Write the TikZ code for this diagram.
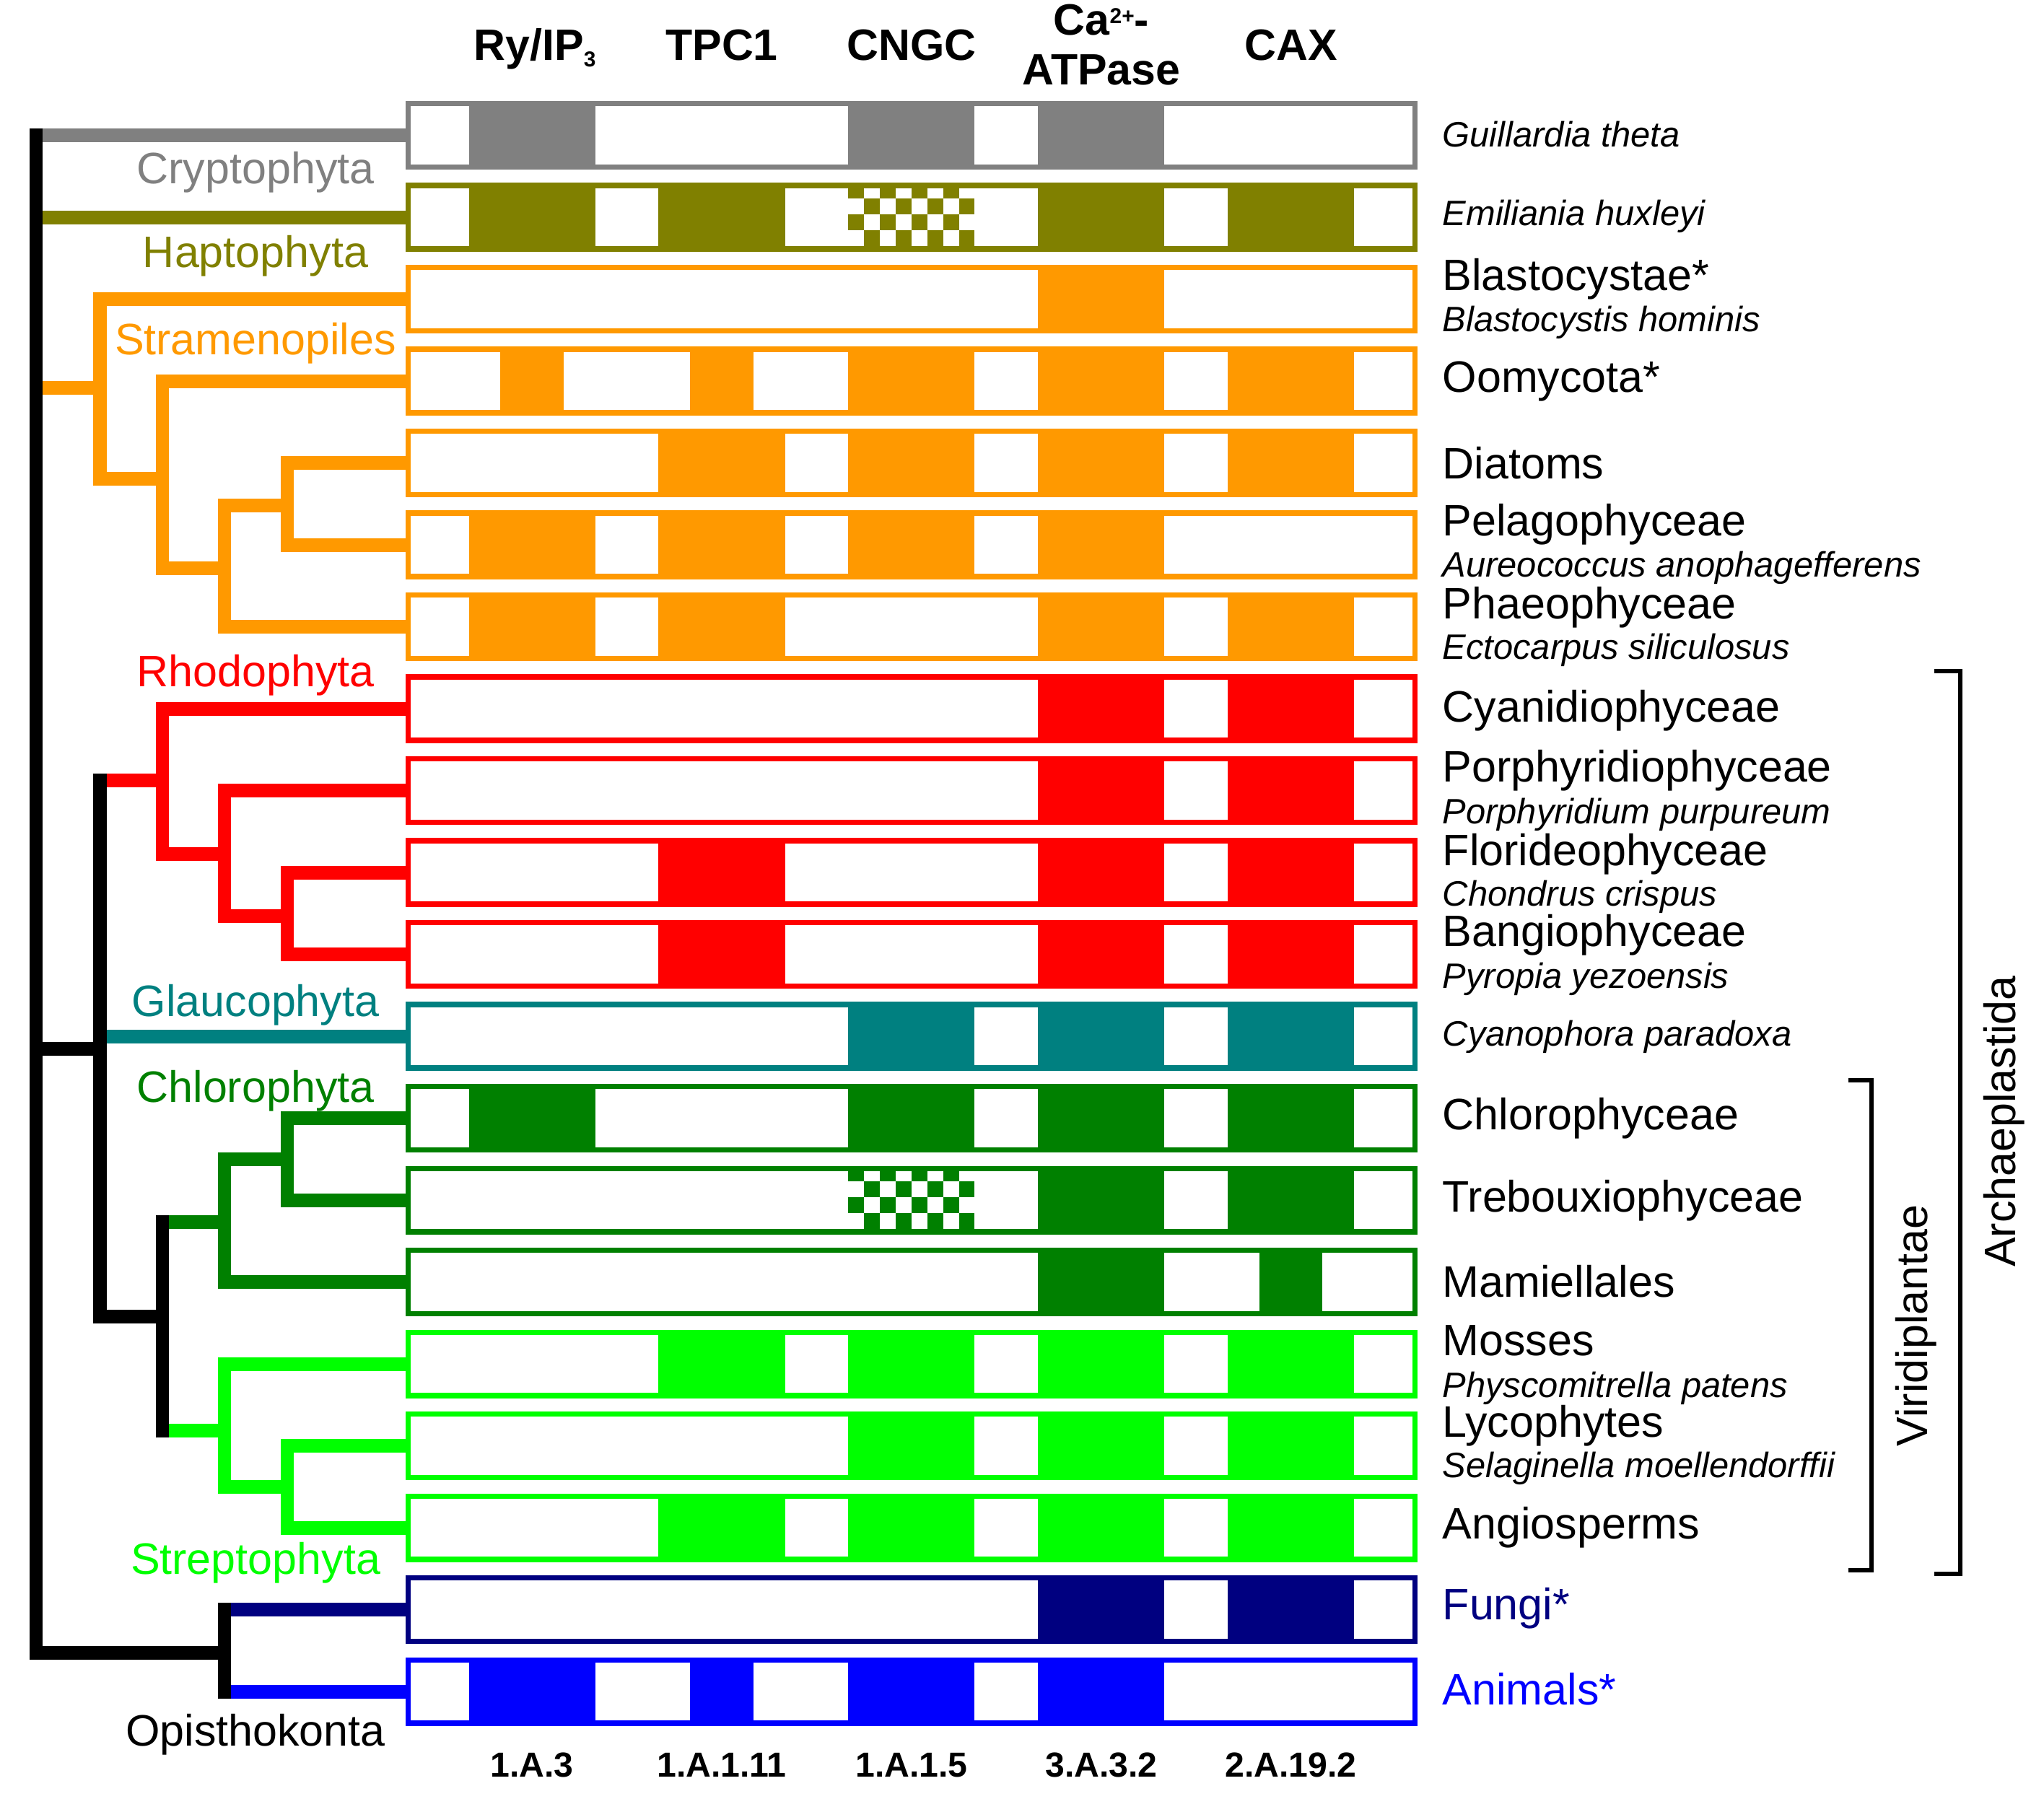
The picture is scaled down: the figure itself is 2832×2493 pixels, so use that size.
\documentclass[tikz,border=0pt]{standalone}
\usepackage{fontspec}
\setmainfont{Liberation Sans}

\definecolor{crypc}{RGB}{128,128,128}
\definecolor{haptc}{RGB}{128,128,0}
\definecolor{strac}{RGB}{255,153,0}
\definecolor{rhodc}{RGB}{255,0,0}
\definecolor{glauc}{RGB}{0,128,128}
\definecolor{chloc}{RGB}{0,128,0}
\definecolor{strepc}{RGB}{0,255,0}
\definecolor{fungc}{RGB}{0,0,128}
\definecolor{animc}{RGB}{0,0,255}

\tikzset{
	tree/.style={line width=5.4pt},
	genebox/.style={rectangle, line width=2.13pt, minimum width=13.945cm, minimum height=0.875cm, inner sep=0pt, outer sep=0pt},
	bracket/.style={line width=1.56pt},
	clade/.style={anchor=base, inner sep=0pt, font=\fontsize{17.35}{20}\selectfont},
	taxon/.style={anchor=base west, inner sep=0pt, font=\fontsize{17.35}{20}\selectfont},
	species/.style={anchor=base west, inner sep=0pt, font=\fontsize{13.9}{16}\selectfont\itshape},
	gene/.style={anchor=base, inner sep=0pt, font=\fontsize{17.3}{20}\selectfont\bfseries},
	tcnum/.style={anchor=base, inner sep=0pt, font=\fontsize{13.7}{16}\selectfont\bfseries}
}

\newcommand{\genebar}[4]{% name, y centre, colour, filled spans (in units of 43.8)
	\foreach \sa/\sb in {#4}
	{
		\fill[#3] (562 + 43.8*\sa, #2 - 47.5) rectangle (562 + 43.8*\sb, #2 + 47.5);
	}
	\node[genebox, draw=#3] (#1) at (1263, #2) {};
}

\newcommand{\checkerfill}[2]{% y centre, colour -- CNGC column only
	\begin{scope}
		\clip (1175.2, #1 - 40) rectangle (1350.4, #1 + 40);
		\foreach \i in {0, ..., 7}
		{
			\foreach \j in {0, ..., 3}
			{
				\pgfmathtruncatemacro{\cellodd}{mod(\i + \j, 2)}
				\ifnum\cellodd=1
					\fill[#2] (1175.2 + 21.9*\i, #1 + 40 - 22*\j) rectangle ++(21.9, -22);
				\fi
			}
		}
	\end{scope}
}

\begin{document}
\begin{tikzpicture}[x=0.01cm, y=-0.01cm]
\useasboundingbox (0, 0) rectangle (2832, 2493);

% gene columns
\node[gene] (hry) at (741, 83) {Ry/IP\raisebox{-2.6pt}{\fontsize{8.5}{9}\selectfont 3}};
\node[gene] (htpc) at (1000, 83) {TPC1};
\node[gene] (hcngc) at (1263, 83) {CNGC};
\node[gene] (hcaa) at (1526, 48) {Ca\raisebox{4.3pt}{\fontsize{8.5}{9}\selectfont 2+}-};
\node[gene] (hcab) at (1526, 117) {ATPase};
\node[gene] (hcax) at (1788.6, 83) {CAX};

\node[tcnum] (nry) at (737.2, 2462) {1.A.3};
\node[tcnum] (ntpc) at (1000, 2462) {1.A.1.11};
\node[tcnum] (ncngc) at (1263, 2462) {1.A.1.5};
\node[tcnum] (nca) at (1526, 2462) {3.A.3.2};
\node[tcnum] (ncax) at (1788.6, 2462) {2.A.19.2};

% bars
\genebar{guil}{187.5}{crypc}{2/6, 14/18, 20/24}
\genebar{emil}{301}{haptc}{2/6, 8/12, 20/24, 26/30}
\checkerfill{301}{haptc}
\genebar{blasto}{414.5}{strac}{20/24}
\genebar{oomy}{528}{strac}{3/5, 9/11, 14/18, 20/24, 26/30}
\genebar{diat}{641.5}{strac}{8/12, 14/18, 20/24, 26/30}
\genebar{pela}{755}{strac}{2/6, 8/12, 14/18, 20/24}
\genebar{phaeo}{868.5}{strac}{2/6, 8/12, 20/24, 26/30}
\genebar{cyani}{982}{rhodc}{20/24, 26/30}
\genebar{porph}{1095.5}{rhodc}{20/24, 26/30}
\genebar{flori}{1209}{rhodc}{8/12, 20/24, 26/30}
\genebar{bangi}{1322.5}{rhodc}{8/12, 20/24, 26/30}
\genebar{cyano}{1436}{glauc}{14/18, 20/24, 26/30}
\genebar{chloro}{1549.5}{chloc}{2/6, 14/18, 20/24, 26/30}
\genebar{trebo}{1663}{chloc}{20/24, 26/30}
\checkerfill{1663}{chloc}
\genebar{mamie}{1776.5}{chloc}{20/24, 27/29}
\genebar{moss}{1890}{strepc}{8/12, 14/18, 20/24, 26/30}
\genebar{lyco}{2003.5}{strepc}{14/18, 20/24, 26/30}
\genebar{angio}{2117}{strepc}{8/12, 14/18, 20/24, 26/30}
\genebar{fungi}{2230.5}{fungc}{20/24, 26/30}
\genebar{anim}{2344}{animc}{2/6, 9/11, 14/18, 20/24}

% tree
\coordinate (euka) at (50, 187.5);
\coordinate (eukb) at (50, 301);
\coordinate (eukc) at (50, 537);
\coordinate (eukd) at (50, 1453);
\coordinate (euke) at (50, 2290);
\coordinate (stra1) at (138.5, 537);
\coordinate (stra2) at (225, 663);
\coordinate (stra3) at (311, 787);
\coordinate (stra4) at (398, 700);
\coordinate (arch1) at (138.5, 1081);
\coordinate (arch2) at (138.5, 1436);
\coordinate (arch3) at (138.5, 1453);
\coordinate (arch4) at (138.5, 1824);
\coordinate (rhod1) at (225, 1081);
\coordinate (rhod2) at (311, 1183);
\coordinate (rhod3) at (398, 1269);
\coordinate (viri1) at (225, 1693);
\coordinate (viri2) at (225, 1824);
\coordinate (viri3) at (225, 1982);
\coordinate (chlo1) at (311, 1693);
\coordinate (chlo2) at (398, 1606);
\coordinate (stre1) at (311, 1982);
\coordinate (stre2) at (398, 2060);
\coordinate (opis1) at (311, 2230.5);
\coordinate (opis2) at (311, 2290);
\coordinate (opis3) at (311, 2344);

\draw[tree, crypc] (euka) -- (guil.west);
\draw[tree, haptc] (eukb) -- (emil.west);

\draw[tree, strac] (eukc) -- (stra1);
\draw[tree, strac] (blasto.west) -| (stra1) |- (stra2);
\draw[tree, strac] (oomy.west) -| (stra2) |- (stra3);
\draw[tree, strac] (stra4) -| (stra3) |- (phaeo.west);
\draw[tree, strac] (diat.west) -| (stra4) |- (pela.west);

\draw[tree, rhodc] (arch1) -- (rhod1);
\draw[tree, rhodc] (cyani.west) -| (rhod1) |- (rhod2);
\draw[tree, rhodc] (porph.west) -| (rhod2) |- (rhod3);
\draw[tree, rhodc] (flori.west) -| (rhod3) |- (bangi.west);

\draw[tree, glauc] (arch2) -- (cyano.west);

\draw[tree, chloc] (viri1) -- (chlo1);
\draw[tree, chloc] (chlo2) -| (chlo1) |- (mamie.west);
\draw[tree, chloc] (chloro.west) -| (chlo2) |- (trebo.west);

\draw[tree, strepc] (viri3) -- (stre1);
\draw[tree, strepc] (moss.west) -| (stre1) |- (stre2);
\draw[tree, strepc] (lyco.west) -| (stre2) |- (angio.west);

\draw[tree, fungc] (opis1) -- (fungi.west);
\draw[tree, animc] (opis3) -- (anim.west);

\draw[tree, line cap=rect] (euka) -- (euke) -- (opis2);
\draw[tree] (eukd) -- (arch3);
\draw[tree, line cap=rect] (arch1) -- (arch4) -- (viri2);
\draw[tree, line cap=rect] (viri1) -- (viri3);
\draw[tree, line cap=rect] (opis1) -- (opis3);

% clade names
\node[clade, crypc] (tcrypto) at (354, 254) {Cryptophyta};
\node[clade, haptc] (thapto) at (354, 370) {Haptophyta};
\node[clade, strac] (tstram) at (354, 491) {Stramenopiles};
\node[clade, rhodc] (trhodo) at (354, 951) {Rhodophyta};
\node[clade, glauc] (tglauco) at (354, 1408) {Glaucophyta};
\node[clade, chloc] (tchloro) at (354, 1527) {Chlorophyta};
\node[clade, strepc] (tstrepto) at (354, 2181) {Streptophyta};
\node[clade] (topistho) at (354, 2419) {Opisthokonta};

% taxa
\node[species] (lguil) at (1998, 203) {Guillardia theta};
\node[species] (lemil) at (1998, 312) {Emiliania huxleyi};
\node[taxon] (lblasto) at (1998, 402.5) {Blastocystae*};
\node[species] (sblasto) at (1998, 459) {Blastocystis hominis};
\node[taxon] (loomy) at (1998, 543) {Oomycota*};
\node[taxon] (ldiat) at (1998, 663) {Diatoms};
\node[taxon] (lpela) at (1998, 742) {Pelagophyceae};
\node[species] (spela) at (1998, 799) {Aureococcus anophagefferens};
\node[taxon] (lphaeo) at (1998, 857) {Phaeophyceae};
\node[species] (sphaeo) at (1998, 913) {Ectocarpus siliculosus};
\node[taxon] (lcyani) at (1998, 1000) {Cyanidiophyceae};
\node[taxon] (lporph) at (1998, 1083) {Porphyridiophyceae};
\node[species] (sporph) at (1998, 1141) {Porphyridium purpureum};
\node[taxon] (lflori) at (1998, 1199) {Florideophyceae};
\node[species] (sflori) at (1998, 1255) {Chondrus crispus};
\node[taxon] (lbangi) at (1998, 1311) {Bangiophyceae};
\node[species] (sbangi) at (1998, 1369) {Pyropia yezoensis};
\node[species] (lcyano) at (1998, 1449) {Cyanophora paradoxa};
\node[taxon] (lchloro) at (1998, 1565) {Chlorophyceae};
\node[taxon] (ltrebo) at (1998, 1679) {Trebouxiophyceae};
\node[taxon] (lmamie) at (1998, 1797) {Mamiellales};
\node[taxon] (lmoss) at (1998, 1878) {Mosses};
\node[species] (smoss) at (1998, 1936) {Physcomitrella patens};
\node[taxon] (llyco) at (1998, 1991) {Lycophytes};
\node[species] (slyco) at (1998, 2047) {Selaginella moellendorffii};
\node[taxon] (langio) at (1998, 2132) {Angiosperms};
\node[taxon, fungc] (lfungi) at (1998, 2244) {Fungi*};
\node[taxon, animc] (lanim) at (1998, 2362) {Animals*};

% groups
\draw[bracket] (2680, 930) -- (2716, 930) -- (2716, 2181) -- (2680, 2181);
\node[clade, rotate=90] (tarch) at (2792, 1554) {Archaeplastida};
\draw[bracket] (2561, 1497) -- (2593, 1497) -- (2593, 2176) -- (2561, 2176);
\node[clade, rotate=90] (tviri) at (2670, 1837) {Viridiplantae};

\end{tikzpicture}
\end{document}
